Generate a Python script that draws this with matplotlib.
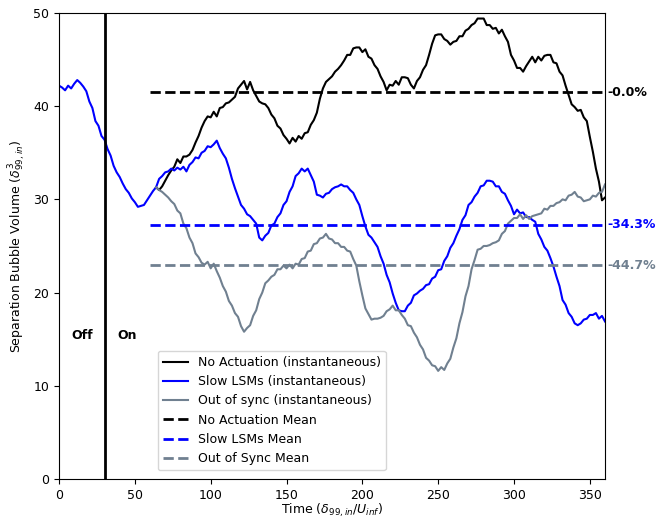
import numpy as np
import matplotlib
matplotlib.use("Agg")
import matplotlib.pyplot as plt

plt.rcParams["font.size"] = 9

# Time samples (delta_99,in / U_inf)
t_blue = list(range(0, 361, 2))
t_after = list(range(64, 361, 2))

# Slow LSMs actuation (instantaneous); before t=60 all cases share this history
slow_lsms = [
    42.2, 42.0, 41.7, 42.2, 41.9, 42.4, 42.8, 42.5, 42.1, 41.6,
    40.5, 39.8, 38.4, 37.9, 36.8, 36.4, 35.4, 34.7, 33.6, 32.9,
    32.4, 31.7, 31.1, 30.7, 30.1, 29.7, 29.2, 29.3, 29.4, 29.9,
    30.4, 30.9, 31.3, 32.2, 32.5, 32.9, 33.0, 33.3, 33.1, 33.4,
    33.2, 33.5, 33.0, 33.7, 34.0, 34.5, 34.4, 35.0, 35.2, 35.7,
    35.6, 35.9, 36.3, 35.5, 34.9, 34.4, 33.4, 32.2, 31.2, 30.3,
    29.4, 29.0, 28.4, 28.2, 27.8, 27.4, 25.9, 25.6, 26.1, 26.4,
    27.2, 27.4, 28.1, 28.5, 29.4, 29.8, 30.8, 31.4, 32.5, 32.8,
    33.3, 33.0, 33.3, 32.6, 31.9, 30.5, 30.4, 30.2, 30.6, 30.7,
    31.1, 31.3, 31.4, 31.6, 31.4, 31.4, 31.0, 30.7, 30.0, 29.4,
    28.2, 27.1, 26.2, 25.9, 25.4, 24.9, 23.9, 23.1, 21.9, 21.1,
    19.9, 18.9, 18.1, 18.0, 18.0, 18.6, 18.9, 19.7, 19.9, 20.2,
    20.4, 20.8, 20.9, 21.5, 21.7, 22.4, 22.5, 23.4, 23.9, 24.8,
    25.3, 26.1, 26.8, 27.8, 28.3, 29.4, 29.7, 30.3, 30.7, 31.4,
    31.5, 32.0, 32.0, 31.9, 31.4, 31.4, 30.8, 30.6, 29.9, 29.3,
    28.4, 28.9, 28.5, 28.6, 28.1, 28.1, 27.8, 27.6, 26.3, 25.7,
    24.9, 24.5, 23.7, 22.8, 21.7, 20.7, 19.2, 18.7, 17.8, 17.4,
    16.7, 16.5, 16.7, 17.1, 17.2, 17.6, 17.6, 17.8, 17.2, 17.5,
    16.9,
]

# No actuation (instantaneous), from t=64 on
no_actuation = [
    31.3, 31.0, 31.4, 32.0, 32.6, 33.1, 33.5, 34.3, 33.9, 34.6,
    34.6, 34.8, 35.3, 36.1, 36.8, 37.7, 38.4, 38.9, 38.8, 39.4,
    38.9, 39.8, 39.9, 40.3, 40.4, 40.7, 41.0, 41.9, 42.3, 42.7,
    41.8, 42.6, 41.7, 41.1, 40.5, 40.3, 40.2, 39.8, 39.1, 38.7,
    37.9, 37.6, 36.9, 36.5, 36.0, 36.6, 36.2, 36.8, 36.5, 37.1,
    37.2, 38.0, 38.5, 39.3, 40.8, 41.9, 42.6, 42.9, 43.2, 43.7,
    44.0, 44.4, 44.9, 45.5, 45.5, 46.2, 46.3, 46.3, 45.8, 46.1,
    45.3, 45.1, 44.4, 44.0, 43.2, 42.6, 41.7, 42.3, 42.2, 42.7,
    42.3, 43.1, 43.1, 43.0, 42.3, 41.9, 42.7, 43.1, 43.9, 44.4,
    45.5, 46.7, 47.6, 47.7, 47.7, 47.2, 47.0, 46.6, 46.9, 47.0,
    47.5, 47.5, 48.1, 48.3, 48.7, 48.9, 49.4, 49.4, 49.4, 48.7,
    48.7, 48.3, 48.4, 47.8, 48.2, 47.5, 46.9, 45.5, 44.9, 44.1,
    44.1, 43.7, 44.3, 44.8, 45.3, 44.7, 45.3, 44.9, 45.4, 45.5,
    45.5, 44.7, 44.6, 43.7, 43.3, 42.2, 41.2, 40.2, 39.9, 39.5,
    39.6, 38.8, 38.4, 36.7, 35.1, 33.3, 31.9, 29.9, 30.2,
]

# Out of sync actuation (instantaneous), from t=64 on
out_of_sync = [
    31.3, 31.0, 30.8, 30.5, 30.2, 29.8, 29.5, 28.8, 28.5, 27.4,
    26.9, 25.9, 25.3, 24.2, 23.8, 23.2, 23.0, 23.3, 22.6, 23.1,
    22.3, 21.6, 20.7, 20.1, 19.1, 18.6, 17.8, 17.4, 16.4, 15.8,
    16.2, 16.5, 17.5, 18.1, 19.3, 20.0, 21.0, 21.3, 21.7, 21.9,
    22.5, 22.5, 22.9, 22.6, 23.0, 22.6, 23.1, 23.0, 23.6, 23.7,
    24.4, 24.5, 25.2, 25.3, 25.8, 25.9, 26.3, 25.8, 25.7, 25.3,
    25.3, 24.9, 24.9, 24.5, 24.4, 23.6, 22.9, 21.2, 19.7, 18.3,
    17.7, 17.1, 17.2, 17.2, 17.3, 17.5, 18.0, 18.2, 18.6, 18.1,
    18.1, 17.6, 17.2, 16.5, 16.4, 15.7, 15.2, 14.4, 13.9, 13.0,
    12.7, 12.2, 12.1, 11.6, 12.0, 11.7, 12.4, 12.9, 14.1, 15.1,
    16.7, 17.9, 19.6, 20.7, 22.5, 23.5, 24.6, 24.7, 25.0, 25.0,
    25.1, 25.3, 25.4, 25.6, 26.3, 26.6, 27.4, 27.7, 28.0, 28.0,
    28.4, 27.9, 28.3, 27.9, 28.2, 28.3, 28.4, 28.5, 29.0, 28.9,
    29.3, 29.3, 29.6, 29.7, 30.0, 29.9, 30.4, 30.5, 30.8, 30.3,
    30.2, 29.8, 29.9, 30.0, 30.4, 30.3, 30.7, 30.8, 31.6,
]

# Time-averaged volumes (t >= 60) and change relative to no actuation
mean_start, mean_end = 60, 360
no_act_mean = 41.5
pct_change = {"no_act": -0.0, "slow": -34.3, "sync": -44.7}
slow_mean = no_act_mean * (1 + pct_change["slow"] / 100)
sync_mean = no_act_mean * (1 + pct_change["sync"] / 100)

actuation_on = 30

c_black = "black"
c_blue = "#0000ff"
c_gray = "slategray"

fig = plt.figure(figsize=(6.61, 5.18), dpi=100)
ax = fig.add_axes([0.0893, 0.0753, 0.826, 0.8997])

ax.plot(t_after, no_actuation, color=c_black, lw=1.5,
        label="No Actuation (instantaneous)")
ax.plot(t_blue, slow_lsms, color=c_blue, lw=1.5,
        label="Slow LSMs (instantaneous)")
ax.plot(t_after, out_of_sync, color=c_gray, lw=1.5,
        label="Out of sync (instantaneous)")

ax.plot([mean_start, mean_end], [no_act_mean] * 2, color=c_black, lw=2,
        ls="--", label="No Actuation Mean")
ax.plot([mean_start, mean_end], [slow_mean] * 2, color=c_blue, lw=2,
        ls="--", label="Slow LSMs Mean")
ax.plot([mean_start, mean_end], [sync_mean] * 2, color=c_gray, lw=2,
        ls="--", label="Out of Sync Mean")

ax.axvline(actuation_on, color="black", lw=2)

ax.text(15.5, 15.4, "Off", ha="center", va="center", fontsize=9,
        fontweight="bold")
ax.text(45, 15.4, "On", ha="center", va="center", fontsize=9,
        fontweight="bold")

for val, key, col in [(no_act_mean, "no_act", c_black),
                      (slow_mean, "slow", c_blue),
                      (sync_mean, "sync", c_gray)]:
    ax.annotate(f"{pct_change[key]:.1f}%", xy=(1.0, val),
                xycoords=("axes fraction", "data"), xytext=(2, 0),
                textcoords="offset points", ha="left", va="center",
                fontsize=9, fontweight="bold", color=col)

ax.set_xlim(0, 360)
ax.set_ylim(0, 50)
ax.set_xlabel(r"Time ($\delta_{99,in}/U_{inf}$)", labelpad=0)
ax.set_ylabel(r"Separation Bubble Volume ($\delta_{99,in}^3$)")

ax.legend(loc="lower left", bbox_to_anchor=(0.181, 0.019), borderaxespad=0,
          fontsize=9)

fig.savefig("out.png", dpi=100)
